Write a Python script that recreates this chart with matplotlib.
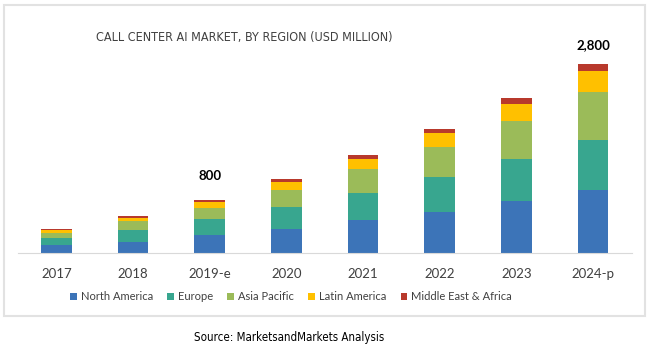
import numpy as np
import matplotlib
matplotlib.use('Agg')
import matplotlib.pyplot as plt
from matplotlib.patches import Rectangle

# Values (USD million)
years = ['2017', '2018', '2019-e', '2020', '2021', '2022', '2023', '2024-p']
north_america = [113, 162, 265, 353, 480, 603, 760, 926]
europe = [103, 176, 230, 323, 407, 519, 617, 735]
asia_pacific = [73, 127, 162, 245, 348, 441, 559, 715]
latin_america = [39, 44, 93, 123, 142, 206, 255, 304]
mea = [25, 29, 34, 39, 59, 59, 83, 103]

regions = ['North America', 'Europe', 'Asia Pacific', 'Latin America', 'Middle East & Africa']
colors = ['#3c74b8', '#38a68f', '#9bbb59', '#ffc000', '#b8392c']
callouts = {2: '800', 7: '2,800'}
callout_gap = {2: 340, 7: 280}  # gap above bar, in data units

plt.rcParams['font.family'] = ['Lato', 'DejaVu Sans']

fig = plt.figure(figsize=(6.5, 3.47), dpi=100)
W, H = 650, 347

# light grey frame around the chart
fig.patches.append(Rectangle((3.5 / W, 1 - 316 / H), 641.5 / W, 311 / H,
                             transform=fig.transFigure, fill=False,
                             edgecolor='#e2e2e2', linewidth=1.5))

ax = fig.add_axes([18 / W, 1 - 252.7 / H, 613.5 / W, 202.7 / H])

x = np.arange(len(years))
bottom = np.zeros(len(years))
for name, vals, c in zip(regions, [north_america, europe, asia_pacific, latin_america, mea], colors):
    ax.bar(x, vals, width=0.4, bottom=bottom, color=c, label=name, linewidth=0)
    bottom += np.array(vals)

for i, txt in callouts.items():
    ax.text(x[i], bottom[i] + callout_gap[i], txt, ha='center', va='center',
            fontsize=9.5, fontweight='bold', color='black')

ax.set_xlim(-0.5, len(years) - 0.5)
ax.set_ylim(0, 2988)
ax.set_yticks([])
ax.set_xticks(x)
ax.set_xticklabels(years, fontsize=9.5, color='#404040')
ax.tick_params(axis='x', length=0, pad=11)
for s in ['top', 'right', 'left']:
    ax.spines[s].set_visible(False)
ax.spines['bottom'].set_color('#d9d9d9')

fig.text(244 / W, 1 - 37 / H, 'CALL CENTER AI MARKET, BY REGION (USD MILLION)',
         ha='center', va='center', fontsize=9, color='#404040',
         family='DejaVu Sans', fontstretch='condensed')

leg = fig.legend(loc='center', bbox_to_anchor=(291 / W, 1 - 297 / H), ncol=5,
                 frameon=False, fontsize=8, handlelength=0.6, handleheight=0.6,
                 handletextpad=0.35, columnspacing=1.3)
for t in leg.get_texts():
    t.set_color('#404040')

fig.text(289 / W, 1 - 337 / H, 'Source: MarketsandMarkets Analysis',
         ha='center', va='center', fontsize=8.3, color='black',
         family='DejaVu Sans', fontstretch='condensed')

fig.savefig('out.png', dpi=100)
